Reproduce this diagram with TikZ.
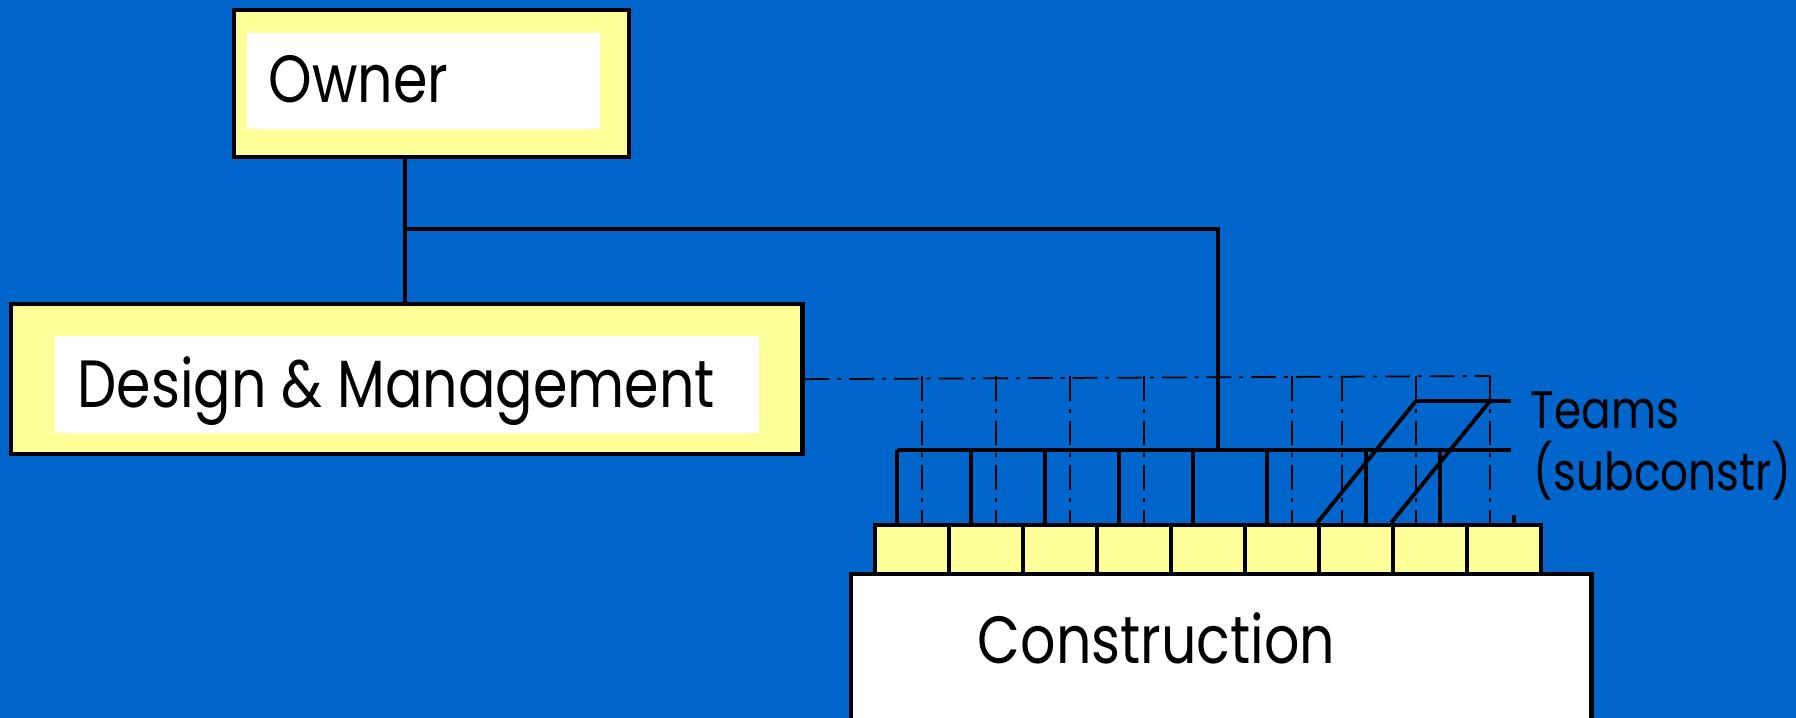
\documentclass[tikz,border=0pt]{standalone}
\usepackage{fontspec}
\setmainfont{Poppins}[FakeStretch=0.83]
\usetikzlibrary{positioning}

\definecolor{slideblue}{HTML}{0066CC}
\definecolor{paleyellow}{HTML}{FFFF99}

\tikzset{
  outerbox/.style={draw, line width=1.2pt, fill=paleyellow, anchor=north west, inner sep=0},
  card/.style={fill=white, anchor=north west, inner sep=0},
  big text/.style={anchor=base west, inner sep=0, font=\fontsize{19}{22}\selectfont},
  side text/.style={anchor=base west, inner sep=0, font=\fontsize{15}{18}\selectfont},
  cell/.style={draw, line width=1.2pt, fill=paleyellow, minimum width=0.74cm, minimum height=0.49cm, anchor=north west, inner sep=0},
  link/.style={line width=1.1pt},
  bar/.style={line width=1.2pt},
  guide/.style={line width=0.5pt, dash pattern=on 7pt off 2.3pt on 1.1pt off 2.3pt},
}

\begin{document}
\begin{tikzpicture}[x=0.01cm, y=-0.01cm]
    % slide background
    \fill[slideblue] (0,0) rectangle (1796,718);
    \useasboundingbox (0,0) rectangle (1796,718);

    % Owner
    \node[outerbox, minimum width=3.95cm, minimum height=1.47cm] (owner) at (232,8) {};
    \node[card, minimum width=3.53cm, minimum height=0.96cm] (owner-card) at (246,32) {};
    \node[big text] (owner-text) at (268,103) {Owner};

    % Design & Management
    \node[outerbox, minimum width=7.91cm, minimum height=1.50cm] (dm) at (9,302) {};
    \node[card, minimum width=7.04cm, minimum height=0.97cm] (dm-card) at (54,335) {};
    \node[big text] (dm-text) at (77,407) {Design \& Management};

    % Construction, runs off the bottom
    \node[outerbox, fill=white, minimum width=7.40cm, minimum height=2cm] (con) at (849,572) {};
    \node[big text] (con-text) at (977,663) {Construction};

    % dash-dot guides from Design & Management
    \draw[guide] (dm.east) -- (1490,376);
    \foreach \x in {922,996,1070,1144,1292,1342,1416,1490}
        \draw[guide] (\x,376) -- (\x,523);

    % Owner to Design & Management and to the teams bar
    \coordinate (trunk) at (405,229);
    \coordinate (drop) at (1218,229);
    \coordinate (bar-l) at (897,450);
    \coordinate (bar-r) at (1511,450);
    \draw[link] (owner.south -| trunk) -- (dm.north -| trunk);
    \draw[link] (trunk) -- (drop) -- (drop |- bar-l);

    % teams bar and its drops
    \draw[bar] (bar-l) -- (bar-r);
    \foreach \x in {897,971,1045,1119,1193,1267,1366,1440}
        \draw[bar] (\x,0 |- bar-l) -- (\x,523);

    % subcontractor cells
    \foreach \i in {1,...,9}
        \node[cell] (c\i) at ({873+74*(\i-1)},523) {};

    % slanted teams
    \coordinate (teams-l) at (1416,401);
    \coordinate (teams-m) at (1490,401);
    \coordinate (teams-r) at (1511,401);
    \draw[link] (teams-l) -- (teams-r);
    \draw[link] (teams-l) -- (c7.north west);
    \draw[link] (teams-m) -- (c8.north west);
    \draw[link] (1514,515) -- (c9.north east -| 1514,0);

    % side label
    \node[side text] (teams) at (1530,428) {Teams};
    \node[side text] (subconstr) at (1533,490) {(subconstr)};
\end{tikzpicture}
\end{document}
